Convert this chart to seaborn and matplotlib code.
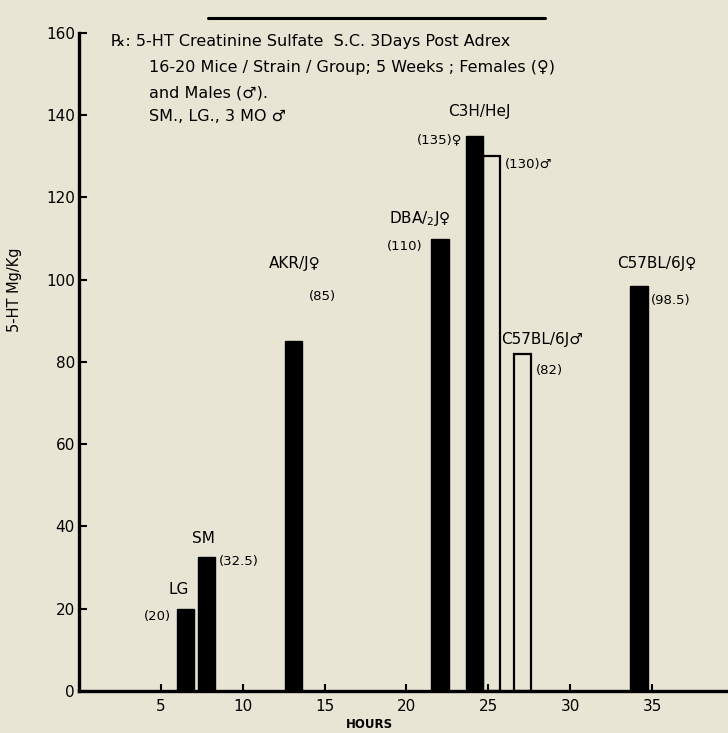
import numpy as np
import pandas as pd
import seaborn as sns
import matplotlib.pyplot as plt
from matplotlib.lines import Line2D

# data
groups = ["LG", "SM", "AKR/J", "DBA/2J", "C3H/HeJ F", "C3H/HeJ M", "C57BL/6J M", "C57BL/6J F"]
hours = [6.5, 7.8, 13.1, 22.05, 24.15, 25.2, 27.1, 34.2]
serotonin = [20, 32.5, 85, 110, 135, 130, 82, 98.5]
sex = ["M", "M", "F", "F", "F", "M", "M", "F"]
open_bar = [False, False, False, False, False, True, True, False]

df = pd.DataFrame({"group": groups, "hours": hours, "value": serotonin,
                   "sex": sex, "open": open_bar})

bg = "#e8e5d5"
sns.set_theme(style="ticks")
plt.rcParams["font.family"] = ["DejaVu Sans"]
plt.rcParams.update({"text.color": "black", "axes.labelcolor": "black",
                     "xtick.color": "black", "ytick.color": "black",
                     "axes.edgecolor": "black"})

fig = plt.figure(figsize=(7.28, 7.33), dpi=100, facecolor=bg)
ax = fig.add_axes([0.1085, 0.0573, 0.8997, 0.8977])
ax.set_facecolor(bg)

sns.barplot(data=df, x="hours", y="value", native_scale=True, width=1.0,
            color="black", saturation=1, errorbar=None, ax=ax)

# males of the C3H and C57BL strains are drawn as open bars
for p in ax.patches:
    cx = p.get_x() + p.get_width() / 2
    row = df.loc[np.isclose(df["hours"], cx, atol=0.05)]
    if len(row) and row["open"].iloc[0]:
        p.set_facecolor("none")
        p.set_edgecolor("black")
        p.set_linewidth(1.6)
    else:
        p.set_facecolor("black")
        p.set_edgecolor("black")

ax.set_xlim(0, 40)
ax.set_ylim(0, 160)
ax.set_xticks([5, 10, 15, 20, 25, 30, 35])
ax.set_yticks(np.arange(0, 161, 20))
ax.tick_params(axis="y", direction="in", length=6, width=1.5, pad=3, labelsize=11)
ax.tick_params(axis="x", direction="in", length=5, width=1.5, pad=6, labelsize=11)
for s in ["top", "right"]:
    ax.spines[s].set_visible(False)
ax.spines["left"].set_linewidth(2.4)
ax.spines["bottom"].set_linewidth(2.4)

ax.set_ylabel("5-HT Mg/Kg", fontsize=10.5)
ax.yaxis.set_label_coords(-0.087, 0.61)
ax.set_xlabel("HOURS", fontsize=8.5, fontweight="bold")
ax.xaxis.set_label_coords(0.444, -0.041)

# header notes
fs = 11.5
ax.text(1.95, 157.9, "℞: 5-HT Creatinine Sulfate  S.C. 3Days Post Adrex", fontsize=fs, va="center")
ax.text(4.28, 151.6, "16-20 Mice / Strain / Group; 5 Weeks ; Females (♀)", fontsize=fs, va="center")
ax.text(4.28, 145.5, "and Males (♂).", fontsize=fs, va="center")
ax.text(4.28, 139.7, "SM., LG., 3 MO ♂", fontsize=fs, va="center")

# bar annotations
ls = 11
ss = 9.5
ax.text(6.1, 24.6, "LG", fontsize=ls, ha="center", va="center")
ax.text(5.6, 18, "(20)", fontsize=ss, ha="right", va="center")
ax.text(7.6, 37, "SM", fontsize=ls, ha="center", va="center")
ax.text(8.55, 31.4, "(32.5)", fontsize=ss, ha="left", va="center")
ax.text(13.2, 104, "AKR/J♀", fontsize=ls, ha="center", va="center")
ax.text(14.05, 96, "(85)", fontsize=ss, ha="left", va="center")
ax.text(20.8, 115, "DBA/$_2$J♀", fontsize=ls, ha="center", va="center")
ax.text(21.0, 108, "(110)", fontsize=ss, ha="right", va="center")
ax.text(24.45, 141, "C3H/HeJ", fontsize=ls, ha="center", va="center")
ax.text(23.4, 134, "(135)♀", fontsize=ss, ha="right", va="center")
ax.text(26.0, 128, "(130)♂", fontsize=ss, ha="left", va="center")
ax.text(28.3, 85.4, "C57BL/6J♂", fontsize=ls, ha="center", va="center")
ax.text(27.9, 78, "(82)", fontsize=ss, ha="left", va="center")
ax.text(35.3, 104, "C57BL/6J♀", fontsize=ls, ha="center", va="center")
ax.text(34.95, 95, "(98.5)", fontsize=ss, ha="left", va="center")

# rule above the figure
fig.add_artist(Line2D([0.286, 0.749], [0.9755, 0.9755], color="black", linewidth=2.2,
                      transform=fig.transFigure))

fig.savefig("out.png", dpi=100, facecolor=bg)
